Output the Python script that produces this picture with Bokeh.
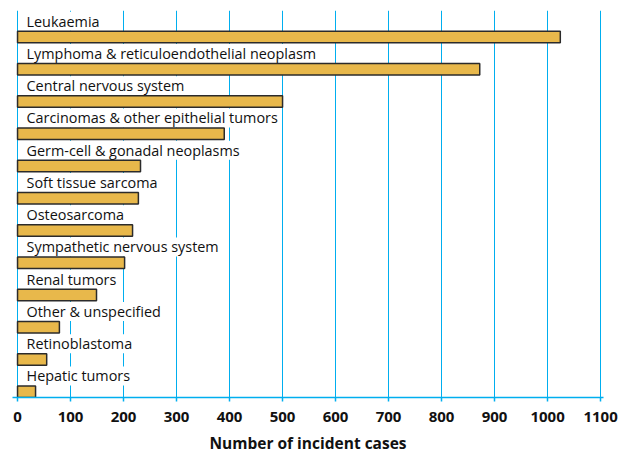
from bokeh.plotting import figure
from bokeh.models import ColumnDataSource, FactorRange, Range1d, LabelSet, FixedTicker
from bokeh.transform import dodge
from bokeh.core.properties import value
from bokeh.embed import file_html
from bokeh.resources import INLINE

categories = [
    "Leukaemia",
    "Lymphoma & reticuloendothelial neoplasm",
    "Central nervous system",
    "Carcinomas & other epithelial tumors",
    "Germ-cell & gonadal neoplasms",
    "Soft tissue sarcoma",
    "Osteosarcoma",
    "Sympathetic nervous system",
    "Renal tumors",
    "Other & unspecified",
    "Retinoblastoma",
    "Hepatic tumors",
]
cases = [1024, 872, 500, 390, 232, 228, 217, 202, 149, 79, 55, 34]
x_ticks = [0, 100, 200, 300, 400, 500, 600, 700, 800, 900, 1000, 1100]
x_title = "Number of incident cases"

src = ColumnDataSource(data=dict(cat=categories, val=cases, zero=[0] * len(cases)))

p = figure(
    width=630, height=456,
    y_range=FactorRange(*list(reversed(categories)), range_padding=0),
    x_range=Range1d(-9.5, 1105.5),
    output_backend="svg", toolbar_location=None,
    min_border_left=12, min_border_right=27, min_border_top=10, min_border_bottom=58,
)
p.outline_line_color = None
p.background_fill_color = "white"
p.border_fill_color = "white"

# grid
p.ygrid.visible = False
p.xgrid.ticker = FixedTicker(ticks=x_ticks)
p.xgrid.grid_line_color = "#00aeef"
p.xgrid.grid_line_width = 1

# labels (white boxes that interrupt the gridlines), drawn below bars
labels = LabelSet(
    x="zero", y=dodge("cat", 0.17, range=p.y_range), text="cat", source=src,
    x_offset=9, text_baseline="middle", text_align="left",
    text_font=value("Open Sans"), text_font_size="14.4px", text_color="#111111",
    background_fill_color="white", background_fill_alpha=1.0,
    text_line_height=1.4, level="underlay",
)
p.add_layout(labels)

p.hbar(
    y=dodge("cat", -0.32, range=p.y_range), left=0, right="val", height=0.36,
    source=src, fill_color="#e8b84b", line_color="#2b2b2b", line_width=1.5,
)

# axes
p.yaxis.visible = False
xa = p.xaxis[0]
xa.ticker = FixedTicker(ticks=x_ticks)
xa.axis_line_color = "#00aeef"
xa.axis_line_width = 1.5
xa.major_tick_line_color = "#00aeef"
xa.major_tick_line_width = 1.5
xa.major_tick_in = 0
xa.major_tick_out = 4
xa.minor_tick_line_color = None
xa.major_label_text_font = "Open Sans"
xa.major_label_text_font_style = "bold"
xa.major_label_text_font_size = "15px"
xa.major_label_text_color = "#111111"
xa.major_label_standoff = 10
xa.axis_label = x_title
xa.axis_label_text_font = "Open Sans"
xa.axis_label_text_font_style = "bold"
xa.axis_label_text_font_size = "15.5px"
xa.axis_label_text_color = "#111111"
xa.axis_label_standoff = 7

open("out.html", "w").write(file_html(p, INLINE))
